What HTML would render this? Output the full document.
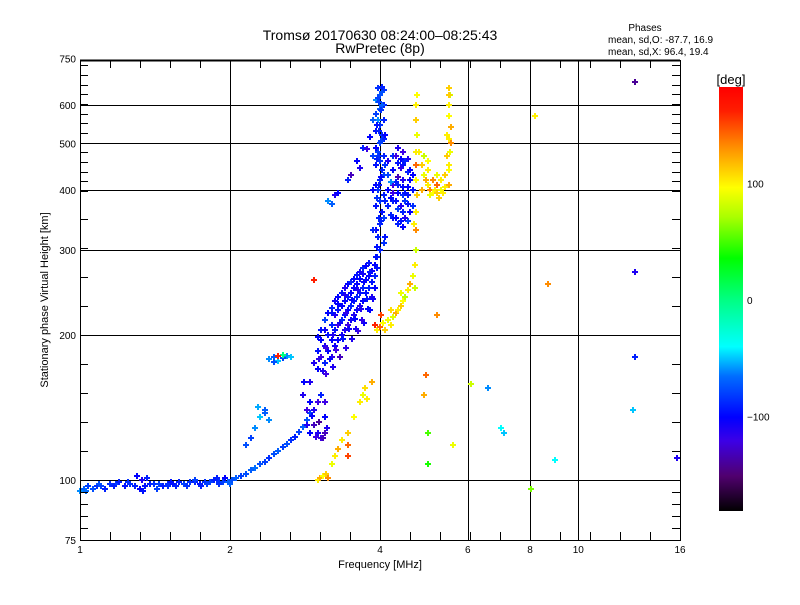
<!DOCTYPE html>
<html><head><meta charset="utf-8"><style>
html,body{margin:0;padding:0;background:#fff;}
svg text{font-family:"Liberation Sans","DejaVu Sans",sans-serif;fill:#000;}
</style></head><body>
<svg id="chart" width="800" height="600" xmlns="http://www.w3.org/2000/svg" shape-rendering="crispEdges">
<rect x="0" y="0" width="800" height="600" fill="#fff"/>
<g id="grid"></g>
<g id="marks"></g>
<g id="axes"></g>
<text x="380" y="40" font-size="14" text-anchor="middle">Tromsø 20170630 08:24:00–08:25:43</text>
<text x="380" y="53" font-size="14" text-anchor="middle">RwPretec (8p)</text>
<text x="645" y="31" font-size="10" text-anchor="middle">Phases</text>
<text x="608" y="43" font-size="10">mean, sd,O: -87.7, 16.9</text>
<text x="608" y="55" font-size="10">mean, sd,X:  96.4, 19.4</text>
<text x="380" y="568" font-size="11" text-anchor="middle">Frequency [MHz]</text>
<text transform="translate(48,300) rotate(-90)" font-size="11" text-anchor="middle">Stationary phase Virtual Height [km]</text>
<g id="cbar"></g>
</svg>
<script>
// ---- data ----
const xTicks=[1,2,4,6,8,10,16];
const yTicks=[75,100,200,300,400,500,600,750];
const xGrid=[2,4,6,8,10];
const yGrid=[100,200,300,400,500,600];
const cbarTicks=[100,0,-100];

const lowF=[1.0,1.02,1.04,1.06,1.08,1.1,1.12,1.15,1.18,1.2,1.23,1.26,1.29,1.32,1.35,1.38,1.41,1.44,1.47,1.5,1.54,1.58,1.62,1.66,1.7,1.74,1.78,1.82,1.86,1.9,1.94,1.98,2.02,2.06,2.1,2.15,2.2,2.25,2.3,2.35,2.4,2.45,2.5,2.55,2.6,2.65,2.7,2.75,2.8,2.85,2.9,1.3,1.33,1.36,1.5,1.52,1.7,1.75,1.9,1.95,2.0,1.03,1.09,1.17,1.25,1.34,1.43,1.56,1.64,1.8,1.88];
const lowH=[95,96,97,96,97,97,96,98,98,99,97,98,97,96,97,98,98,98,97,98,98,99,98,99,99,98,99,99,100,99,99,99,100,101,102,103,105,106,108,109,111,113,115,117,119,121,123,126,129,133,138,102,100,101,97,99,100,97,98,101,98,95,98,97,99,95,96,97,97,98,101];
const lowP=[-60,-70,-80,-75,-85,-80,-90,-85,-80,-90,-95,-85,-90,-100,-95,-90,-85,-80,-90,-85,-95,-90,-80,-85,-90,-95,-85,-80,-90,-85,-80,-70,-75,-70,-80,-75,-70,-65,-75,-80,-85,-75,-70,-80,-75,-85,-90,-80,-70,-75,-80,-100,-110,-90,-85,-95,-80,-90,-85,-100,-70,-65,-75,-90,-85,-95,-80,-90,-85,-80,-90];

const bandF=[2.95,3.0,3.0,3.05,3.05,3.1,3.1,3.1,3.15,3.15,3.2,3.2,3.2,3.25,3.25,3.25,3.3,3.3,3.3,3.35,3.35,3.35,3.4,3.4,3.4,3.45,3.45,3.45,3.5,3.5,3.5,3.55,3.55,3.55,3.6,3.6,3.6,3.65,3.65,3.65,3.7,3.7,3.7,3.75,3.75,3.8,3.8,3.85,3.85,3.9,3.9,3.95,3.95,3.02,3.12,3.22,3.32,3.42,3.52,3.62,3.72,3.82,3.07,3.17,3.27,3.37,3.47,3.57,3.67,3.77];
const bandH=[175,170,185,180,195,175,190,205,185,200,180,195,210,190,205,220,195,210,225,200,215,230,205,220,235,210,225,240,215,230,245,220,235,250,225,240,255,230,245,262,235,250,268,245,260,250,265,258,272,265,280,275,290,178,188,200,212,222,236,248,258,270,168,178,186,196,206,216,226,238];
const bandP=[-110,-100,-95,-120,-100,-90,-110,-105,-100,-95,-115,-100,-90,-105,-95,-110,-100,-120,-95,-105,-90,-100,-110,-95,-100,-120,-100,-95,-105,-90,-100,-110,-95,-100,-105,-90,-100,-110,-95,-100,-100,-90,-105,-95,-100,-90,-100,-95,-105,-90,-100,-95,-90,-115,-120,-110,-105,-115,-100,-110,-100,-95,-110,-100,-120,-95,-105,-100,-110,-95];
const band2F=[3.0,3.05,3.1,3.15,3.2,3.25,3.3,3.35,3.4,3.45,3.5,3.55,3.6,3.65,3.7,3.75,3.8,3.85,3.9,3.12,3.22,3.32,3.42,3.52,3.62,3.72,3.82,3.58,3.68,3.78,3.88,3.1,3.2,3.3,3.4];
const band2H=[198,205,215,222,228,235,240,245,250,255,258,262,266,270,275,278,282,240,250,166,172,180,188,196,204,212,225,206,215,226,238,215,222,232,242];
const band2P=[-100,-95,-110,-100,-90,-105,-100,-95,-110,-100,-90,-100,-95,-105,-90,-100,-95,-110,-100,-120,-110,-130,-115,-110,-120,-105,-100,-110,-115,-100,-105,-80,-95,-100,-110];

const vertF=[3.92,4.0,4.07,3.92,4.0,4.07,3.92,4.0,4.07,3.92,4.0,4.07,3.92,4.0,4.07,3.92,4.0,4.07,3.92,4.0,4.07,3.92,4.0,4.07,3.92,4.0,4.07,3.96,4.04,3.96,4.04,3.96,4.04,3.96,4.04,3.96,4.04,3.96,4.04,3.94,4.02,3.94,4.02,3.94,4.02,3.94,4.02,3.88,3.88,3.88,3.88,4.1,4.1,4.1,4.1,3.98,3.98,3.98,3.98,3.98];
const vertH=[290,300,310,330,340,350,370,380,390,410,420,430,450,460,470,490,500,510,530,545,560,575,590,600,615,630,645,320,360,400,440,480,520,560,600,620,640,650,655,305,345,385,425,465,505,545,585,330,400,470,560,320,380,450,520,350,410,470,530,610];
const vertP=[-95,-90,-85,-100,-90,-80,-95,-85,-90,-100,-90,-80,-95,-85,-90,-100,-80,-90,-95,-85,-90,-80,-70,-90,-60,-75,-85,-90,-95,-85,-90,-80,-85,-60,-70,-80,-75,-85,-90,-95,-90,-85,-100,-90,-80,-95,-85,-90,-100,-80,-70,-95,-90,-85,-100,-90,-95,-85,-90,-80];

const loopF=[4.15,4.15,4.15,4.15,4.25,4.25,4.25,4.25,4.25,4.35,4.35,4.35,4.35,4.35,4.35,4.45,4.45,4.45,4.45,4.45,4.45,4.55,4.55,4.55,4.55,4.55,4.65,4.65,4.65,4.2,4.3,4.4,4.5,4.6,4.2,4.3,4.4,4.5,4.6,4.3,4.4,4.5,4.2,4.3,4.4,4.5,4.6,4.25,4.35,4.45,4.55];
const loopH=[370,400,430,460,350,380,410,440,470,340,365,395,425,455,490,335,360,390,420,450,480,345,375,405,435,465,370,400,430,385,415,445,395,420,355,350,345,350,360,470,465,460,415,380,370,380,440,395,410,405,390];
const loopP=[-90,-100,-80,-110,-95,-90,-120,-100,-85,-90,-80,-100,-130,-95,-110,-100,-90,-85,-110,-95,-120,-80,-95,-100,-90,-110,-85,-95,-100,-100,-90,-115,-95,-100,-90,-100,-95,-110,-100,-120,-100,-90,-60,-95,-110,-85,-100,-120,-90,-100,-95];

const obliqF=[3.15,3.2,3.25,3.3,3.45,3.5,3.6,3.65,3.7,3.77,3.82];
const obliqH=[380,375,390,395,420,430,460,445,490,486,515];
const obliqP=[-60,-70,-110,-100,-90,-130,-100,-110,-90,-120,-100];

const xLowF=[3.9,3.95,4.0,4.05,4.1,4.15,4.2,4.25,4.3,4.35,4.4,4.45,4.5,4.55,4.6,4.65,4.7,4.72,4.73,4.73,4.75,4.73,4.72,4.73,4.75,4.73,4.72,4.74,4.68,4.7,4.02,4.2,4.4];
const xLowH=[210,205,208,212,205,215,210,218,222,225,230,235,240,248,255,265,280,300,330,360,390,420,450,480,520,560,600,630,340,250,220,225,245];
const xLowP=[120,100,140,95,110,90,100,85,120,100,110,95,75,100,120,90,100,80,130,100,110,95,140,100,90,110,100,95,100,80,150,105,90];

const xUpF=[4.8,4.85,4.9,4.95,5.0,5.05,5.1,5.15,5.2,5.3,5.4,5.5,5.5,5.45,4.9,5.0,5.1,5.2,5.3,5.4,5.0,5.2,5.5,5.52,5.5,5.55,5.5,5.5,5.52,5.5,5.55,5.45,4.85,5.05,5.25,5.35];
const xUpH=[480,450,430,420,410,400,395,400,395,400,405,410,440,470,470,440,420,430,420,430,460,410,450,480,510,540,570,600,630,650,500,520,400,390,385,395];
const xUpP=[100,110,90,120,100,130,95,100,110,90,100,120,95,110,80,100,130,90,100,110,95,140,100,90,100,120,95,100,80,110,130,100,120,90,110,100];

const yLowF=[3.0,3.03,3.08,3.12,3.15,3.2,3.25,3.3,3.35,3.45,3.55,3.65,3.7,3.73,3.85,3.77,3.45];
const yLowH=[100,101,102,103,101,108,112,116,121,125,135,145,150,155,160,147,118];
const yLowP=[100,120,95,110,130,90,100,120,100,110,95,100,90,105,120,100,140];

const stripF=[2.4,2.45,2.5,2.55,2.6,2.45,2.55,2.65,2.5,2.35,2.25,2.3,2.35,2.4,2.2,2.15,2.28];
const stripH=[178,180,177,179,181,176,182,180,181,140,128,135,138,133,122,118,142];
const stripP=[-60,-70,-50,-80,-60,-75,0,-50,160,-70,-60,-50,-70,-60,-80,-75,-55];

const purpF=[2.8,2.85,2.9,2.95,3.0,3.05,3.1,3.1,2.95,3.0,3.05,2.9,2.85,3.1,3.02,2.82,2.9,3.08,2.98,2.92,3.13];
const purpH=[150,140,145,130,125,122,125,135,140,145,150,125,130,145,132,160,160,122,123,136,128];
const purpP=[-110,-120,-100,-130,-110,-120,-130,-100,-110,-120,-90,-100,-110,-120,-140,-100,-110,-130,-120,-100,-110];

const outF=[8.2,13.0,13.0,13.0,12.9,15.8,8.7,9.0,7.1,7.0,6.6,5.6,5.0,5.0,5.2,4.95,3.45,2.95,4.9,5.5,8.05,6.1,3.9];
const outH=[570,670,270,180,140,111,255,110,125,128,155,118,108,125,220,165,112,260,150,630,96,158,210];
const outP=[100,-140,-110,-90,-50,-110,130,-40,-50,-40,-60,90,40,50,130,140,150,160,120,110,60,80,160];

// ---- scales ----
const X0=80,X1=680,Y0=60,Y1=540;
function xs(f){return X0+150*Math.log2(f);}
function ys(h){return 480-145*Math.log2(h/100);}
const stops=[[-180,[0,0,0]],[-150,[80,0,110]],[-120,[60,0,230]],[-100,[0,0,255]],[-65,[0,110,255]],[-40,[0,255,255]],[0,[0,255,130]],[35,[0,255,0]],[70,[170,255,0]],[95,[255,255,0]],[130,[255,140,0]],[160,[255,30,0]],[180,[255,0,0]]];
function pc(p){p=Math.max(-180,Math.min(180,p));for(let i=1;i<stops.length;i++){if(p<=stops[i][0]){const a=stops[i-1],b=stops[i],t=(p-a[0])/(b[0]-a[0]);return 'rgb('+a[1].map((v,k)=>Math.round(v+(b[1][k]-v)*t)).join(',')+')';}}return 'rgb(255,0,0)';}
const NS='http://www.w3.org/2000/svg';
function mk(tag,attrs,parent){const e=document.createElementNS(NS,tag);for(const k in attrs)e.setAttribute(k,attrs[k]);parent.appendChild(e);return e;}

const grid=document.getElementById('grid');
xGrid.forEach(f=>{const x=Math.round(xs(f))+0.5;const l=mk('line',{x1:x,x2:x,y1:Y0,y2:Y1,stroke:'#000','stroke-width':1},grid);

});
yGrid.forEach(h=>{const y=Math.round(ys(h))+0.5;const l=mk('line',{x1:X0,x2:X1,y1:y,y2:y,stroke:'#000','stroke-width':1},grid);

});

const marks=document.getElementById('marks');
function cluster(F,H,P,name){for(let i=0;i<F.length;i++){const x=Math.round(xs(F[i])),y=Math.round(ys(H[i]));
const p=mk('path',{d:'M'+(x-3)+' '+y+'h6M'+x+' '+(y-3)+'v6',stroke:pc(P[i]),'stroke-width':2,fill:'none'},marks);

}}
cluster(lowF,lowH,lowP,'point-low-trace');
cluster(stripF,stripH,stripP,'point-strip');
cluster(purpF,purpH,purpP,'point-purple-cluster');
cluster(bandF,bandH,bandP,'point-f-band');
cluster(band2F,band2H,band2P,'point-f-band');
cluster(vertF,vertH,vertP,'point-vertical');
cluster(loopF,loopH,loopP,'point-loop');
cluster(obliqF,obliqH,obliqP,'point-oblique');
cluster(yLowF,yLowH,yLowP,'point-x-low');
cluster(xLowF,xLowH,xLowP,'point-x-trace');
cluster(xUpF,xUpH,xUpP,'point-x-upper');
cluster(outF,outH,outP,'point-outlier');

// axes
const ax=document.getElementById('axes');
mk('rect',{x:X0+0.5,y:Y0+0.5,width:X1-X0,height:Y1-Y0,fill:'none',stroke:'#000','stroke-width':1},ax);
mk('line',{x1:X0,x2:X1,y1:Y0+0.5,y2:Y0+0.5,stroke:'#000','stroke-width':2},ax);
let d='';
for(let x=X0+30;x<X1;x+=30){d+='M'+(x+0.5)+' '+Y1+'v-8M'+(x+0.5)+' '+Y0+'v8';}
for(let y=480;y<Y1;y+=12){d+='M'+X0+' '+(y+0.5)+'h8M'+X1+' '+(y+0.5)+'h-8';}
for(let y=480;y>191;y-=29){d+='M'+X0+' '+(Math.round(y)+0.5)+'h8M'+X1+' '+(Math.round(y)+0.5)+'h-8';}
for(let y=191;y>Y0;y-=145/15){d+='M'+X0+' '+(Math.round(y)+0.5)+'h8M'+X1+' '+(Math.round(y)+0.5)+'h-8';}
mk('path',{d:d,stroke:'#000','stroke-width':1},ax);
xTicks.forEach(f=>{const t=mk('text',{x:xs(f),y:553,'font-size':10,'text-anchor':'middle'},ax);t.textContent=f;

});
yTicks.forEach(h=>{const t=mk('text',{x:76,y:ys(h)+4,'font-size':10,'text-anchor':'end'},ax);t.textContent=h;

});

// colorbar
const cb=document.getElementById('cbar');
const CT=87,CB=511;
for(let y=CT;y<CB;y++){const p=180-(y-CT)/(CB-CT)*360;mk('rect',{x:719,y:y,width:24,height:1,fill:pc(p)},cb);}
cbarTicks.forEach(v=>{const t=mk('text',{x:747,y:300-v*1.165+4,'font-size':10},cb);t.textContent=v===-100?'−100':v;

});
const u=mk('text',{x:731,y:84,'font-size':13,'text-anchor':'middle'},cb);u.textContent='[deg]';


</script>
</body></html>
